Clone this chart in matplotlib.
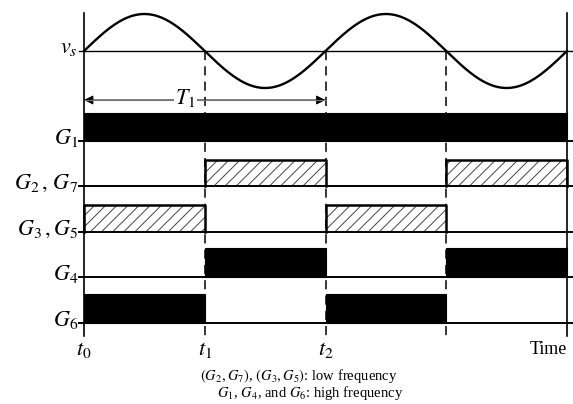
import numpy as np
import matplotlib
matplotlib.use("Agg")
import matplotlib.pyplot as plt
from matplotlib.patches import Rectangle

plt.rcParams['mathtext.fontset'] = 'stix'
plt.rcParams['font.family'] = ['Liberation Serif', 'DejaVu Serif']
plt.rcParams['hatch.linewidth'] = 0.7

# ---- data ----
instants = [0, 1, 2, 3, 4]                 # t0, t1, t2, t3, t4 (in half periods)
instant_labels = ['$t_0$', '$t_1$', '$t_2$', '', 'Time']
signal_names = ['$v_s$', '$G_1$', '$G_2\\,,\\,G_7$', '$G_3\\,,G_5$', '$G_4$', '$G_6$']
# gate states per interval [t0-t1, t1-t2, t2-t3, t3-t4]
g1 = [1, 1, 1, 1]
g27 = [0, 1, 0, 1]
g35 = [1, 0, 1, 0]
g4 = [0, 1, 0, 1]
g6 = [1, 0, 1, 0]
gates = [g1, g27, g35, g4, g6]
gate_style = ['solid', 'hatch', 'hatch', 'solid', 'solid']
period_T1 = 2  # T1 spans t0..t2
caption1 = '$(G_2, G_7)$, $(G_3, G_5)$: low frequency'
caption2 = '$G_1$, $G_4$, and $G_6$: high frequency'

# ---- layout ----
W, H = 573, 404
fig = plt.figure(figsize=(W / 100, H / 100), dpi=100)
ax = fig.add_axes([0, 0, 1, 1])
x0px, dxpx = 84, 120.75
ax.set_xlim(-x0px / dxpx, (W - x0px) / dxpx)
ax.set_ylim(H, 0)
ax.axis('off')

baselines = [51, 141, 186, 232, 277, 323]
bar_h = [28, 26, 27, 29, 29]
amp = 37
tick_l = -5 / dxpx
xr = ax.get_xlim()[1]

# axes: left and right vertical lines
ax.plot([0, 0], [13, 336], color='black', lw=1.2, zorder=5)
ax.plot([4, 4], [13, 336], color='black', lw=1.2, zorder=5)

# dashed lines at t1, t2, t3
for t in instants[1:4]:
    ax.plot([t, t], [baselines[0], 337], color='black', lw=1.1, ls=(0, (6, 4)), zorder=1)

# sine wave
ts = np.linspace(0, 4, 600)
ax.plot(ts, baselines[0] - amp * np.sin(np.pi * ts), color='black', lw=1.7, zorder=4)

# baselines
for i, yb in enumerate(baselines):
    ax.plot([tick_l, xr], [yb, yb], color='black', lw=1.4 if i else 1.0, zorder=4)

# gates
for states, style, yb, h in zip(gates, gate_style, baselines[1:], bar_h):
    for k, s in enumerate(states):
        if not s:
            continue
        xa, xb = instants[k], instants[k + 1]
        if style == 'solid':
            ax.add_patch(Rectangle((xa, yb - h), xb - xa, h, facecolor='black',
                                   edgecolor='black', lw=0.8, zorder=3))
        else:
            ax.add_patch(Rectangle((xa, yb - h), xb - xa, h, facecolor='white',
                                   edgecolor='#444444', hatch='///', lw=0, zorder=3))
            ax.plot([xa, xa, xb, xb], [yb, yb - h, yb - h, yb], color='black',
                    lw=1.8, zorder=4)

# signal labels
for name, yb in zip(signal_names, baselines):
    ax.text(-6 / dxpx, yb - 3, name, ha='right', va='center', fontsize=16)

# T1 arrow
yT = 100
ax.annotate('', xy=(0, yT), xytext=(period_T1, yT),
            arrowprops=dict(arrowstyle='<|-|>', color='black', lw=0.7,
                            mutation_scale=14, shrinkA=0, shrinkB=0), zorder=2)
ax.plot([0, period_T1], [yT, yT], color='#777777', lw=0.8, zorder=2)
ax.text(0.84, yT - 2, '$T_1$', ha='center', va='center', fontsize=16,
        bbox=dict(facecolor='white', edgecolor='none', pad=1), zorder=3)

# instant labels
for t, lab in zip(instants, instant_labels):
    if not lab:
        continue
    if lab == 'Time':
        ax.text(t, 350, lab, ha='right', va='center', fontsize=13)
    else:
        ax.text(t, 350, lab, ha='center', va='center', fontsize=16)

# caption
ax.text((299 - x0px) / dxpx, 376, caption1, ha='center', va='center', fontsize=10.5)
ax.text((310 - x0px) / dxpx, 393, caption2, ha='center', va='center', fontsize=10.5)

fig.savefig('out.png', dpi=100)
